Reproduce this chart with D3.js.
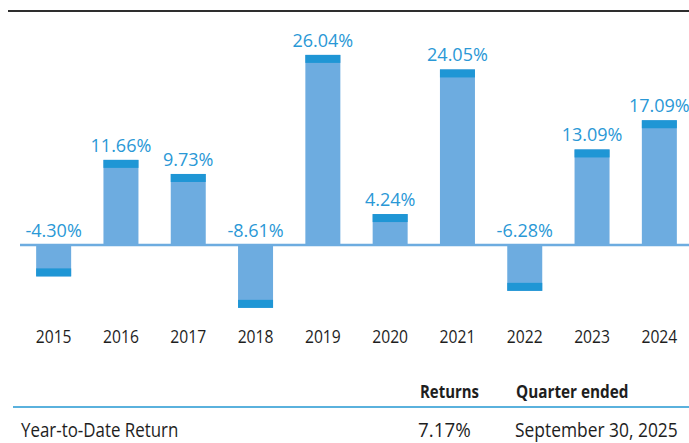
<!DOCTYPE html>
<html>
<head>
<meta charset="utf-8">
<script src="https://cdn.jsdelivr.net/npm/d3@7"></script>
<style>
  html, body { margin: 0; padding: 0; background: #fff; }
  svg { display: block; font-family: "Open Sans", sans-serif; }
</style>
</head>
<body>
<svg id="chart" width="689" height="443"></svg>
<script>
// Calendar-year total returns
const years = ["2015", "2016", "2017", "2018", "2019", "2020", "2021", "2022", "2023", "2024"];
const returns = [-4.30, 11.66, 9.73, -8.61, 26.04, 4.24, 24.05, -6.28, 13.09, 17.09];

// Summary row beneath the chart
const tableHeaders = ["Returns", "Quarter ended"];
const tableRow = ["Year-to-Date Return", "7.17%", "September 30, 2025"];

const W = 689, H = 443;
const barColor = "#6dace0";
const capColor = "#1f96d5";
const labelColor = "#2a98d6";
const ink = "#1e1e1e";

const svg = d3.select("#chart");
const data = years.map((y, i) => ({ year: y, value: returns[i] }));

const x = d3.scaleBand()
  .domain(years)
  .range([20, 693])
  .paddingInner(0.48)
  .paddingOuter(0.24);

const y = d3.scaleLinear()
  .domain([-10, 30])
  .range([318, 26]);

const fmt = v => v.toFixed(2) + "%";
const capH = 8;

// Rule across the top
svg.append("line")
  .attr("x1", 8).attr("x2", W)
  .attr("y1", 11).attr("y2", 11)
  .attr("stroke", "#2e2e2e").attr("stroke-width", 2);

// Zero line
svg.append("line")
  .attr("x1", 20).attr("x2", W)
  .attr("y1", y(0)).attr("y2", y(0))
  .attr("stroke", barColor).attr("stroke-width", 2.5);

const g = svg.append("g").selectAll("g").data(data).join("g");

// Bar body
g.append("rect")
  .attr("x", d => x(d.year))
  .attr("width", x.bandwidth())
  .attr("y", d => y(Math.max(0, d.value)))
  .attr("height", d => Math.abs(y(d.value) - y(0)))
  .attr("fill", barColor);

// Darker cap at the end of each bar
g.append("rect")
  .attr("x", d => x(d.year))
  .attr("width", x.bandwidth())
  .attr("y", d => d.value >= 0 ? y(d.value) : y(d.value) - capH)
  .attr("height", capH)
  .attr("fill", capColor);

// Value labels
g.append("text")
  .attr("x", d => x(d.year) + x.bandwidth() / 2)
  .attr("y", d => (d.value >= 0 ? y(d.value) : y(0)) - 8)
  .attr("text-anchor", "middle")
  .attr("fill", labelColor)
  .style("font-size", "18px")
  .text(d => fmt(d.value));

// Year axis (slightly narrowed glyphs)
const xAxis = svg.append("g")
  .attr("transform", "translate(0,343)")
  .call(d3.axisBottom(x).tickSize(0).tickPadding(0));
xAxis.select(".domain").remove();
xAxis.selectAll("text")
  .attr("y", 0)
  .attr("dy", 0)
  .attr("transform", "scale(0.87,1)")
  .attr("fill", ink)
  .style("font-family", "'Open Sans', sans-serif")
  .style("font-size", "18px");

// Left-anchored text with a horizontal squeeze
function label(tx, ty, text, size, sx, weight) {
  svg.append("text")
    .attr("transform", `translate(${tx},${ty}) scale(${sx},1)`)
    .attr("fill", ink)
    .style("font-size", size + "px")
    .style("font-weight", weight || 400)
    .text(text);
}

// Summary table
label(420, 398, tableHeaders[0], 18, 0.83, 700);
label(516, 398, tableHeaders[1], 18, 0.85, 700);

svg.append("line")
  .attr("x1", 13).attr("x2", W)
  .attr("y1", 407).attr("y2", 407)
  .attr("stroke", "#5ab1dd").attr("stroke-width", 2);

const rowX = [21, 418, 515];
const rowSx = [0.845, 0.94, 0.87];
tableRow.forEach((t, i) => label(rowX[i], 437, t, 20, rowSx[i]));
</script>
</body>
</html>
